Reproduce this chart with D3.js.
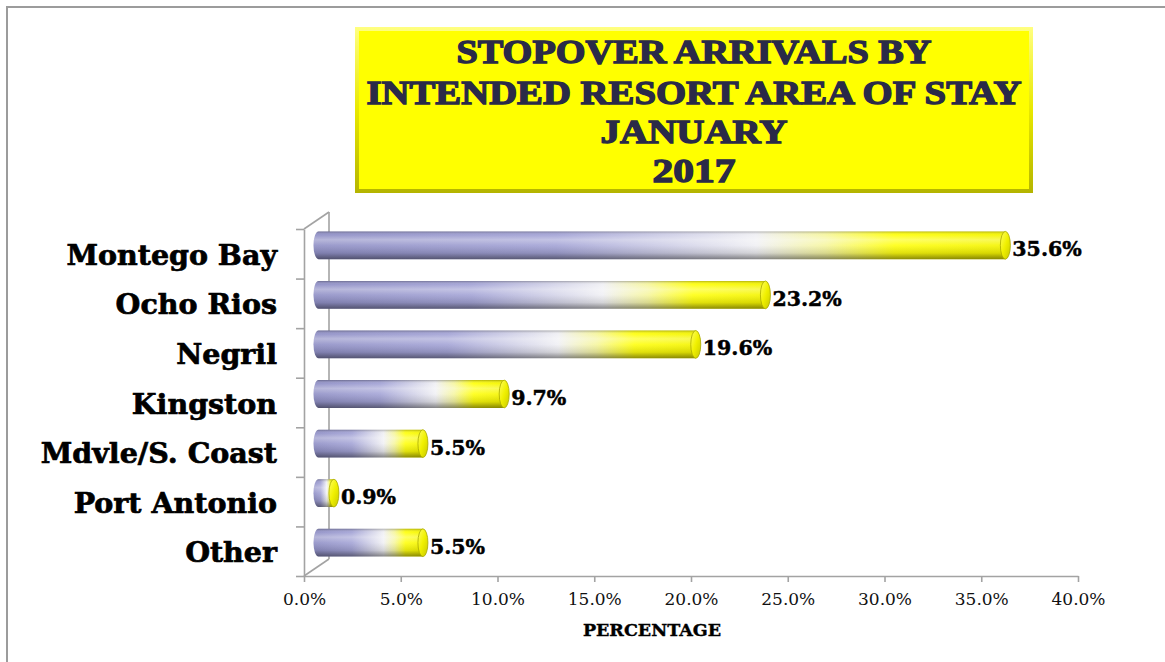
<!DOCTYPE html>
<html>
<head>
<meta charset="utf-8">
<script src="https://cdn.jsdelivr.net/npm/d3@7"></script>
<style>
  body { margin: 0; background: #fff; }
  svg { display: block; }
</style>
</head>
<body>
<div id="chart"></div>
<script>
// data
var categories = ["Montego Bay", "Ocho Rios", "Negril", "Kingston", "Mdvle/S. Coast", "Port Antonio", "Other"];
var values = [35.6, 23.2, 19.6, 9.7, 5.5, 0.9, 5.5];
var xTicks = [0, 5, 10, 15, 20, 25, 30, 35, 40];
var titleLines = ["STOPOVER ARRIVALS BY", "INTENDED RESORT AREA OF STAY", "JANUARY", "2017"];

var svgWidth = 1165;
var svgHeight = 662;

// plot floor, front edge
var plot = { left: 304, right: 1078, top: 229, bottom: 576 };
// 3d depth of the plot (back wall offset)
var depth = { dx: 25, dy: -17 };

var svg = d3.select("#chart")
  .append("svg")
  .attr("width", svgWidth)
  .attr("height", svgHeight);

var defs = svg.append("defs");

// horizontal colour ramp: lavender -> white -> yellow
var barGrad = defs.append("linearGradient")
  .attr("id", "barGrad")
  .attr("x1", 0).attr("y1", 0).attr("x2", 1).attr("y2", 0);
[[0, "#9090c6"], [0.35, "#a4a4d6"], [0.64, "#f0f0f4"], [0.74, "#f6f6a0"], [0.84, "#ffff10"], [1, "#f4f400"]]
  .forEach(function(s) {
    barGrad.append("stop").attr("offset", s[0]).attr("stop-color", s[1]);
  });

// vertical shading for the cylinder look
var shade = defs.append("linearGradient")
  .attr("id", "shade")
  .attr("x1", 0).attr("y1", 0).attr("x2", 0).attr("y2", 1);
[[0, "#000", 0.28], [0.12, "#fff", 0.05], [0.3, "#fff", 0.35], [0.5, "#fff", 0.1], [0.78, "#000", 0.12], [1, "#000", 0.45]]
  .forEach(function(s) {
    shade.append("stop").attr("offset", s[0]).attr("stop-color", s[1]).attr("stop-opacity", s[2]);
  });

// end cap
var capGrad = defs.append("linearGradient")
  .attr("id", "capGrad")
  .attr("x1", 0).attr("y1", 0).attr("x2", 1).attr("y2", 1);
[[0, "#ffff60"], [0.5, "#f0f000"], [1, "#c8c800"]]
  .forEach(function(s) {
    capGrad.append("stop").attr("offset", s[0]).attr("stop-color", s[1]);
  });

// title box bevel
var boxGrad = defs.append("linearGradient")
  .attr("id", "boxGrad")
  .attr("x1", 0).attr("y1", 0).attr("x2", 0).attr("y2", 1);
[[0, "#ffff80"], [0.5, "#e8e800"], [1, "#b4b400"]]
  .forEach(function(s) {
    boxGrad.append("stop").attr("offset", s[0]).attr("stop-color", s[1]);
  });

// outer frame (only top and left edges show)
svg.append("rect")
  .attr("x", 7).attr("y", 7)
  .attr("width", svgWidth + 20).attr("height", svgHeight + 20)
  .attr("fill", "none")
  .attr("stroke", "#9c9c9c")
  .attr("stroke-width", 2);

// title box
var tb = { x: 355, y: 27, w: 678, h: 166 };
svg.append("rect")
  .attr("x", tb.x).attr("y", tb.y).attr("width", tb.w).attr("height", tb.h)
  .attr("fill", "url(#boxGrad)");
svg.append("rect")
  .attr("x", tb.x + 4).attr("y", tb.y + 4).attr("width", tb.w - 8).attr("height", tb.h - 8)
  .attr("fill", "#ffff00");

var titleBase = [63, 104, 143, 182];
var titleWidth = [475, 655, 187, 83];
svg.append("g").selectAll("text")
  .data(titleLines)
  .enter()
  .append("text")
  .attr("x", tb.x + tb.w / 2)
  .attr("y", (d, i) => titleBase[i])
  .attr("text-anchor", "middle")
  .attr("textLength", (d, i) => titleWidth[i])
  .attr("lengthAdjust", "spacingAndGlyphs")
  .attr("font-family", "'Liberation Serif', serif")
  .attr("font-weight", "bold")
  .attr("font-size", "34.5px")
  .attr("fill", "#2a2a48")
  .attr("stroke", "#2a2a48")
  .attr("stroke-width", 1.4)
  .text(d => d);

// scales
var x = d3.scaleLinear().domain([0, 40]).range([plot.left, plot.right]);
var y = d3.scaleBand()
  .domain(categories)
  .range([plot.top, plot.bottom])
  .paddingInner(0.44)
  .paddingOuter(0.22);
var yEdge = d3.scaleLinear().domain([0, categories.length]).range([plot.top, plot.bottom]);

var axisColor = "#a3a3a3";

// back wall + floor depth lines
var wall = svg.append("g")
  .attr("stroke", axisColor)
  .attr("stroke-width", 1.6)
  .attr("fill", "none");
wall.append("line")
  .attr("x1", plot.left + depth.dx).attr("y1", plot.top + depth.dy)
  .attr("x2", plot.left + depth.dx).attr("y2", plot.bottom + depth.dy);
wall.append("line")
  .attr("x1", plot.left).attr("y1", plot.top)
  .attr("x2", plot.left + depth.dx).attr("y2", plot.top + depth.dy);
wall.append("line")
  .attr("x1", plot.left).attr("y1", plot.bottom)
  .attr("x2", plot.left + depth.dx).attr("y2", plot.bottom + depth.dy);

// x axis
var xAxis = svg.append("g")
  .attr("transform", `translate(0, ${plot.bottom})`)
  .call(d3.axisBottom(x).tickValues(xTicks).tickSize(6).tickSizeOuter(0)
    .tickFormat(d => d.toFixed(1) + "%"));
xAxis.select(".domain").attr("stroke", axisColor).attr("stroke-width", 1.6);
xAxis.selectAll(".tick line").attr("stroke", axisColor).attr("stroke-width", 1.6);
xAxis.selectAll(".tick text")
  .attr("y", 17)
  .attr("dy", "0.71em")
  .attr("font-family", "'DejaVu Serif', serif")
  .attr("font-size", "17px")
  .attr("fill", "#111");

// y axis (category boundaries)
var yAxis = svg.append("g")
  .attr("transform", `translate(${plot.left}, 0)`)
  .call(d3.axisLeft(yEdge).tickValues(d3.range(categories.length + 1)).tickSize(8).tickSizeOuter(0)
    .tickFormat(""));
yAxis.select(".domain").attr("stroke", axisColor).attr("stroke-width", 1.6);
yAxis.selectAll(".tick line").attr("stroke", axisColor).attr("stroke-width", 1.6);

// category labels
svg.append("g").selectAll("text")
  .data(categories)
  .enter()
  .append("text")
  .attr("x", 277)
  .attr("y", d => y(d) + y.bandwidth() / 2 + 11)
  .attr("text-anchor", "end")
  .attr("font-family", "'DejaVu Serif', serif")
  .attr("font-weight", "bold")
  .attr("font-size", "28.5px")
  .attr("fill", "#000")
  .attr("stroke", "#000")
  .attr("stroke-width", 0.7)
  .text(d => d);

// axis title
svg.append("text")
  .attr("x", 652)
  .attr("y", 636)
  .attr("text-anchor", "middle")
  .attr("font-family", "'DejaVu Serif', serif")
  .attr("font-weight", "bold")
  .attr("font-size", "17.5px")
  .attr("fill", "#000")
  .attr("stroke", "#000")
  .attr("stroke-width", 0.4)
  .text("PERCENTAGE");

// cylinders sit at half depth
var off = { dx: depth.dx / 2, dy: depth.dy / 2 };
var rx = 5;
var barData = categories.map((c, i) => ({ cat: c, value: values[i] }));

function bodyPath(d) {
  var x0 = x(0) + off.dx + 2;
  var x1 = x(d.value) + off.dx;
  var t = y(d.cat) + off.dy;
  var h = y.bandwidth();
  return `M${x0},${t} L${x1},${t} L${x1},${t + h} L${x0},${t + h} ` +
    `A${rx},${h / 2} 0 0 1 ${x0},${t} Z`;
}

var bars = svg.append("g").selectAll("g")
  .data(barData)
  .enter()
  .append("g");

bars.append("path")
  .attr("d", bodyPath)
  .attr("fill", "url(#barGrad)");
bars.append("path")
  .attr("d", bodyPath)
  .attr("fill", "url(#shade)");

bars.append("ellipse")
  .attr("cx", d => x(d.value) + off.dx)
  .attr("cy", d => y(d.cat) + off.dy + y.bandwidth() / 2)
  .attr("rx", rx)
  .attr("ry", y.bandwidth() / 2)
  .attr("fill", "url(#capGrad)")
  .attr("stroke", "#a8a800")
  .attr("stroke-width", 0.8);

// value labels
svg.append("g").selectAll("text")
  .data(barData)
  .enter()
  .append("text")
  .attr("x", d => x(d.value) + off.dx + rx + 2)
  .attr("y", d => y(d.cat) + off.dy + y.bandwidth() / 2 + 11)
  .attr("font-family", "'DejaVu Serif', serif")
  .attr("font-weight", "bold")
  .attr("font-size", "20.5px")
  .attr("fill", "#000")
  .attr("stroke", "#000")
  .attr("stroke-width", 0.5)
  .text(d => d.value.toFixed(1) + "%");
</script>
</body>
</html>
